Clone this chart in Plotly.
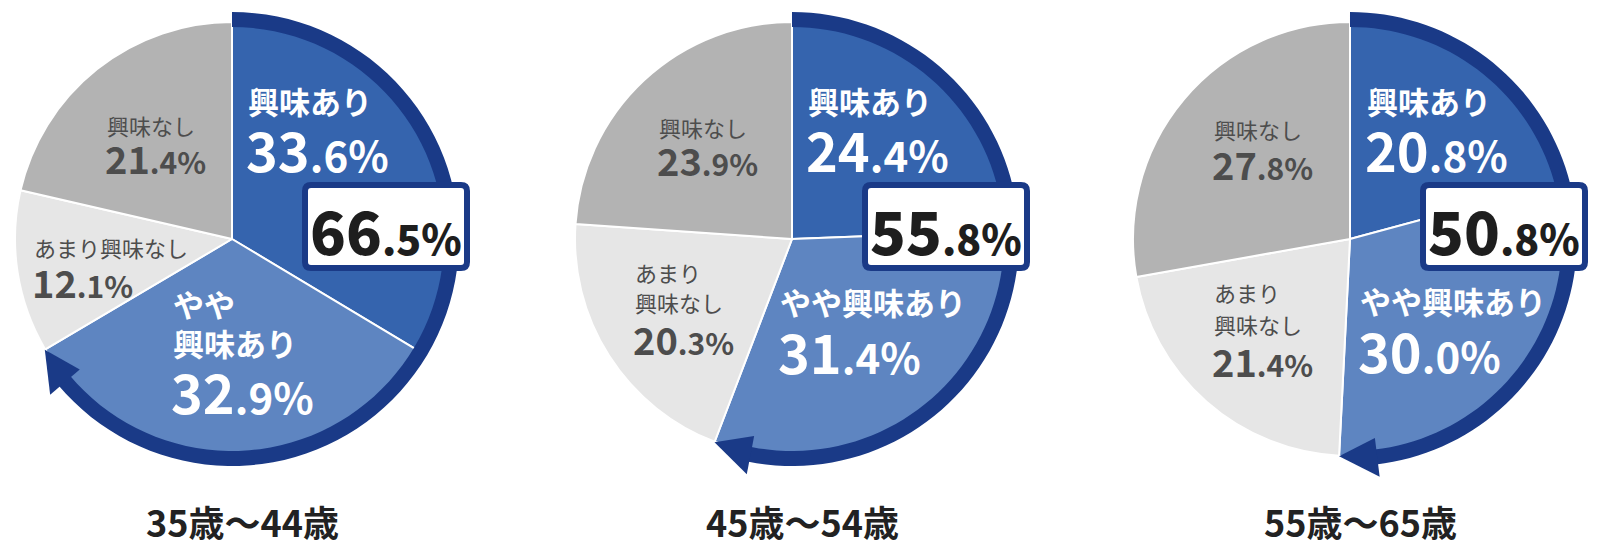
import math
import plotly.graph_objects as go

# ---------------- data ----------------
groups = ["35歳〜44歳", "45歳〜54歳", "55歳〜65歳"]
categories = ["興味あり", "やや興味あり", "あまり興味なし", "興味なし"]
interested = [33.6, 24.4, 20.8]
somewhat = [32.9, 31.4, 30.0]
not_much = [12.1, 20.3, 21.4]
not_interested = [21.4, 23.9, 27.8]

# label line breaks per pie (same order as categories)
label_lines = [
    [["興味あり"], ["やや", "興味あり"], ["あまり興味なし"], ["興味なし"]],
    [["興味あり"], ["やや興味あり"], ["あまり", "興味なし"], ["興味なし"]],
    [["興味あり"], ["やや興味あり"], ["あまり", "興味なし"], ["興味なし"]],
]

# ---------------- layout constants (pixels) ----------------
W, H = 1601, 551
CX = [232, 792, 1350]
CY = 239
R = 217
FONT = "Noto Sans CJK JP"
colors = ["#3564AE", "#5E85C1", "#E6E6E6", "#B3B3B3"]
NAVY = "#1A3A87"

# label placement offsets from pie centre: (dx, [dy of name lines], dy of number)
label_pos = [
    [(14, [-139], -91), (-61, [64, 103], 151), (-200, [8], 42), (-127, [-114], -81)],
    [(14, [-139], -91), (-14, [62], 111), (-159, [33, 63], 99), (-135, [-112], -79)],
    [(15, [-139], -91), (8, [61], 110), (-138, [53, 85], 121), (-138, [-110], -76)],
]


def px(x):
    return x / W


def py(y):
    return 1 - y / H


def pt(cx, r, deg):
    a = math.radians(deg)
    return cx + r * math.sin(a), CY - r * math.cos(a)


def pct(v, small):
    s = f"{v:.1f}"
    i, d = s.split(".")
    return f"{i}<span style='font-size:{small}px'>.{d}%</span>"


fig = go.Figure()
shapes = []
annotations = []

for k in range(3):
    vals = [interested[k], somewhat[k], not_much[k], not_interested[k]]
    cx = CX[k]
    fig.add_trace(go.Pie(
        labels=categories,
        values=vals,
        sort=False,
        direction="clockwise",
        rotation=0,
        marker=dict(colors=colors, line=dict(color="white", width=2)),
        textinfo="none",
        hoverinfo="label+percent",
        showlegend=False,
        domain=dict(x=[px(cx - R), px(cx + R)], y=[py(CY + R), py(CY - R)]),
    ))

    # ring arrow around the two "interested" slices
    total = interested[k] + somewhat[k]
    end_deg = total / sum(vals) * 360
    base_deg = end_deg - 10
    rc, hw = 219.5, 7.5
    n = 80
    outer = [pt(cx, rc + hw, (base_deg + 0.5) * i / n) for i in range(n + 1)]
    inner = [pt(cx, rc - hw, (base_deg + 0.5) * (n - i) / n) for i in range(n + 1)]
    path = "M " + " L ".join(f"{px(x):.5f},{py(y):.5f}" for x, y in outer + inner) + " Z"
    shapes.append(dict(type="path", path=path, xref="paper", yref="paper",
                       fillcolor=NAVY, line=dict(width=0), layer="above"))
    tip = pt(cx, rc - 2, end_deg)
    b1 = pt(cx, rc + 20, base_deg)
    b2 = pt(cx, rc - 19, base_deg)
    head = "M " + " L ".join(f"{px(x):.5f},{py(y):.5f}" for x, y in [tip, b1, b2]) + " Z"
    shapes.append(dict(type="path", path=head, xref="paper", yref="paper",
                       fillcolor=NAVY, line=dict(width=0), layer="above"))

    # rounded total box
    x0, x1, y0, y1, cr = cx + 73, cx + 235, 185, 268, 6
    box = (f"M {px(x0 + cr)},{py(y0)} L {px(x1 - cr)},{py(y0)} "
           f"Q {px(x1)},{py(y0)} {px(x1)},{py(y0 + cr)} L {px(x1)},{py(y1 - cr)} "
           f"Q {px(x1)},{py(y1)} {px(x1 - cr)},{py(y1)} L {px(x0 + cr)},{py(y1)} "
           f"Q {px(x0)},{py(y1)} {px(x0)},{py(y1 - cr)} L {px(x0)},{py(y0 + cr)} "
           f"Q {px(x0)},{py(y0)} {px(x0 + cr)},{py(y0)} Z")
    shapes.append(dict(type="path", path=box, xref="paper", yref="paper",
                       fillcolor="white", line=dict(color=NAVY, width=6), layer="above"))
    annotations.append(dict(
        x=px((x0 + x1) / 2), y=py(229), xref="paper", yref="paper",
        text=pct(round(total, 1), 41), showarrow=False, xanchor="center", yanchor="middle",
        font=dict(family=FONT, size=59, color="#1E1E1E", weight=900)))

    # slice labels
    for j in range(4):
        dx, dys, dyn = label_pos[k][j]
        blue = j < 2
        col = "white" if blue else "#4D4D4D"
        for line, dy in zip(label_lines[k][j], dys):
            annotations.append(dict(
                x=px(cx + dx), y=py(CY + dy), xref="paper", yref="paper",
                text=line, showarrow=False,
                xanchor="left", yanchor="middle",
                font=dict(family=FONT, size=31 if blue else 22, color=col,
                          weight=700 if blue else 400)))
        annotations.append(dict(
            x=px(cx + dx - 2), y=py(CY + dyn), xref="paper", yref="paper",
            text=pct(vals[j], 42 if blue else 30), showarrow=False,
            xanchor="left", yanchor="middle",
            font=dict(family=FONT, size=54 if blue else 38, color=col, weight=700)))

    # group title
    annotations.append(dict(
        x=px(cx + 10), y=py(521), xref="paper", yref="paper",
        text=groups[k], showarrow=False, xanchor="center", yanchor="middle",
        font=dict(family=FONT, size=36, color="#222222", weight=700)))

fig.update_layout(
    width=W, height=H,
    margin=dict(l=0, r=0, t=0, b=0),
    paper_bgcolor="white", plot_bgcolor="white",
    shapes=shapes, annotations=annotations,
    font=dict(family=FONT),
)
fig.write_html("out.html", config={"displayModeBar": False},
               post_script="document.body.style.margin='0';document.body.style.padding='0';")
